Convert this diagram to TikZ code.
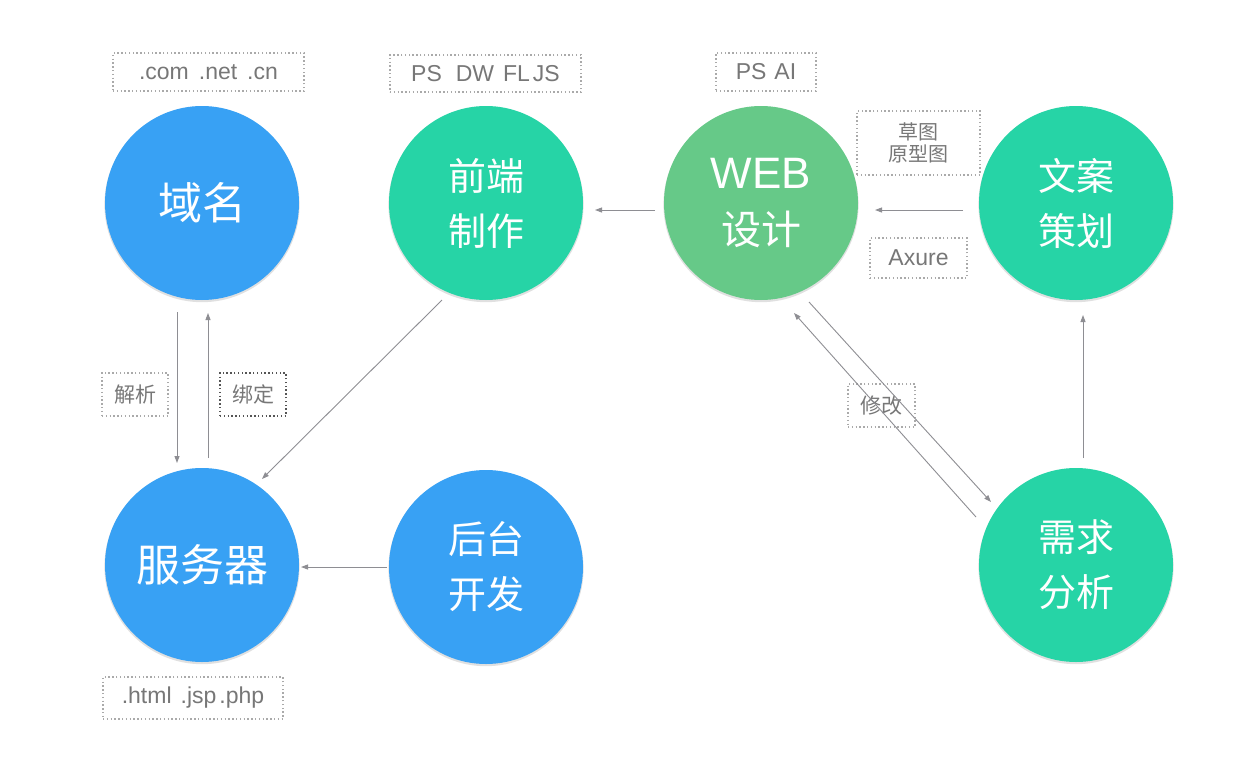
\documentclass[tikz,border=0pt]{standalone}
\usepackage{fontspec}
\setmainfont{Liberation Sans}
\newfontfamily\cjk{Noto Sans CJK SC}
\usetikzlibrary{arrows.meta}
\definecolor{cblue}{HTML}{38A1F4}
\definecolor{cteal}{HTML}{26D4A6}
\definecolor{cgreen}{HTML}{66C988}
\definecolor{lgray}{HTML}{8E8E93}
\definecolor{txtgray}{HTML}{777777}
\definecolor{dotgray}{HTML}{AAAAAA}
\definecolor{dotdark}{HTML}{555555}
\begin{document}
\begin{tikzpicture}[x=1pt,y=-1pt,
  bubble/.style={circle, minimum size=194pt, inner sep=0pt, outer sep=0pt, text=white, align=center},
  big/.style={font=\cjk\fontsize{44}{50}\selectfont},
  two/.style={font=\cjk\fontsize{38}{55}\selectfont},
  arr/.style={draw=lgray, line width=0.9pt, -{Triangle[length=7pt,width=5pt]}},
  tag/.style={draw=dotgray, line width=1.4pt, dash pattern=on 1.4pt off 2.4pt, text=txtgray, inner sep=0pt, align=center},
  lat/.style={font=\fontsize{23}{26}\selectfont},
  cj/.style={font=\cjk\fontsize{21}{24}\selectfont},
  shadowc/.style={fill=black, opacity=0.12},
]
\fill[white] (0,0) rectangle (1235,761);
% shadows
\foreach \x/\y in {202/203,486/203,761/203,1076/203,202/565,486/567,1076/565}
  \fill[shadowc] (\x,\y+1.6) circle (97.6pt);
% circles
\node[bubble, big, fill=cblue] (dm) at (202,203) {域名};
\node[bubble, two, fill=cteal] (fe) at (486,203) {前端\\制作};
\node[bubble, fill=cgreen, font=\fontsize{44}{56}\selectfont] (web) at (761,203) {\raisebox{2pt}{WEB}\\{\cjk\fontsize{40}{50}\selectfont\raisebox{2pt}{设计}}};
\node[bubble, two, fill=cteal] (wa) at (1076,203) {文案\\策划};
\node[bubble, big, fill=cblue] (srv) at (202,565) {服务器};
\node[bubble, two, fill=cblue] (ht) at (486,567) {后台\\开发};
\node[bubble, two, fill=cteal] (xq) at (1076,565) {需求\\分析};
% tags
\node[tag, lat, minimum width=191pt, minimum height=38pt] (tcom) at (208.5,72) {.com\hspace{10pt}.net\hspace{10pt}.cn};
\node[tag, lat, minimum width=191pt, minimum height=37pt] (tps) at (485.5,73.5) {PS\hspace{14pt}DW\hspace{9pt}FL\hspace{3pt}JS};
\node[tag, lat, minimum width=100pt, minimum height=38pt] (tai) at (766,72) {PS\hspace{8pt}AI};
\node[tag, font=\cjk\fontsize{20}{22}\selectfont, minimum width=123pt, minimum height=64pt] (tdraft) at (918.5,143) {草图\\原型图};
\node[tag, lat, minimum width=97pt, minimum height=40pt] (tax) at (918.5,258) {Axure};
\node[tag, cj, minimum width=66pt, minimum height=43pt] (tjx) at (135,394.5) {解析};
\node[tag, cj, draw=dotdark, minimum width=66pt, minimum height=43pt] (tbd) at (253,394.5) {绑定};
\node[tag, cj, minimum width=67pt, minimum height=43pt] (txg) at (881.5,405.5) {修改};
\node[tag, lat, minimum width=180pt, minimum height=42pt] (thtml) at (193,698) {.html\hspace{9pt}.jsp\hspace{3pt}.php};
% connectors
\draw[arr] ([shift={(-9,7)}]web.west) -- ([shift={(12,7)}]fe.east);
\draw[arr] ([shift={(-16,7)}]wa.west) -- ([shift={(17,7)}]web.east);
\draw[arr] ([shift={(-25,12)}]dm.south) -- ([shift={(-25,-5)}]srv.north);
\draw[arr] ([shift={(6,-10)}]srv.north) -- ([shift={(6,13)}]dm.south);
\draw[arr] ([shift={(-44,0)}]fe.south) -- ([shift={(60,-86)}]srv.center);
\draw[arr] ([shift={(-2,0)}]ht.west) -- ([shift={(2,2)}]srv.east);
\draw[arr] ([shift={(7,-10)}]xq.north) -- ([shift={(7,15)}]wa.south);
\draw[arr] ([shift={(48,99)}]web.center) -- ([shift={(-85,-63)}]xq.center);
\draw[arr] ([shift={(-100,-48)}]xq.center) -- ([shift={(33,110)}]web.center);
\end{tikzpicture}
\end{document}
